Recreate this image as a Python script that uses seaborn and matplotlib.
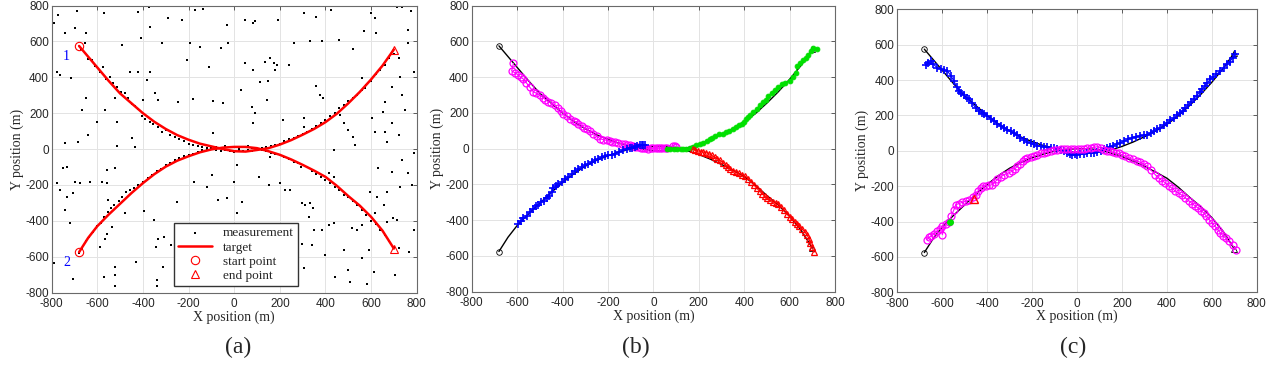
import matplotlib
matplotlib.use("Agg")
import matplotlib.pyplot as plt
import seaborn as sns

# true target tracks (knots)
t1_x = [-680, -640, -600, -550, -500, -450, -400, -350, -300, -250, -200, -150, -100, -50, 0, 50, 100, 150,
        200, 250, 300, 350, 400, 450, 500, 550, 600, 650, 700]
t1_y = [575, 515, 455, 380, 310, 255, 200, 152, 112, 78, 52, 30, 15, 0, -12, -14, -5, 5,
        25, 50, 80, 112, 150, 197, 255, 318, 388, 465, 555]
t2_x = t1_x
t2_y = [-575, -495, -430, -365, -305, -245, -190, -140, -98, -65, -40, -18, -2, 8, 12, 12, 5, -12,
        -32, -58, -88, -120, -155, -205, -262, -315, -378, -455, -555]

# clutter measurements, panel (a)
clut_x = [-788, -771, -688, -571, -420, -373, -289, -135, -33, 48, 84, 92, 194, 306, 359, 425, 600, 618,
          713, 735, 776, 760, 571, 622, -742, -698, -649, -410, -369, -318, -194, -28, -60, -152, 260, 333,
          384, 760, -171, -775, -763, -715, -668, -649, -602, -643, -683, -741, -512, -450, -435, -493,
          -457, -420, -383, -369, -347, -333, -398, -522, -515, -566, -245, -180, -92, -51, -208, -92, 48,
          77, 84, 84, 92, 114, 143, 157, 136, 173, 180, 187, 216, 304, 304, 359, 377, 390, 436, 463, 480,
          501, 523, 530, 559, 573, 603, 618, 651, 660, 668, 660, 692, 721, 728, 735, 750, 787, 787, 721,
          692, -778, -763, -751, -734, -734, -741, -705, -698, -676, -719, -705, -792, -632, -581, -559,
          -556, -551, -522, -478, -537, -588, -571, -522, -522, -522, -430, -394, -351, -336, -344, -339,
          -339, -307, -310, -251, -278, -237, -120, -98, -69, -33, -3, 11, 33, 11, 107, 202, 246, 297, 311,
          333, 347, 326, 297, 341, 304, 348, 384, 399, 415, 436, 440, 480, 501, 509, 516, 538, 560, 560,
          581, 589, 611, 655, 670, 670, 692, 697, 713, 706, 728, 735, 760, 779, 787, 765, 721, 625, 618,
          596, 632, 436, 415, 292, 224, 157, 151, -178, -559, -566, -230, -110, 30, 150, 240, 460, 520]
clut_y = [705, 748, 770, 761, 766, 795, 729, 780, 692, 720, 701, 716, 720, 761, 735, 776, 761, 729,
          794, 790, 770, 664, 660, 646, 649, 673, 649, 618, 683, 590, 593, 593, 562, 571, 593, 605,
          603, 590, 776, 432, 413, 394, 218, 283, 153, 78, 41, 32, 17, 60, 13, 580,
          432, 432, 385, 432, 311, 273, 273, 283, 153, 218, 264, 279, 270, 259, 497, 87, 478,
          236, 441, 143, 199, 376, 273, 506, 488, 478, 441, 469, 162, 125, 171, 352, 301, 283, -6, 190, 143,
          106, 69, 22, 394, 339, 171, 97, 208, 97, 41, 264, 143, 78, 404, 301, 218, 432, -24, 506,
          348, -192, -229, -108, -99, -266, -340, -247, -182, -192, -415, -722, -638, -182, -182, -117,
          -188, -285, -108, -359, -433, -545, -713, -657, -703, -765, -629, -344, -396, -502, -545, -731,
          -765, -493, -657, -294, -536, -582, -210, -145, -285, -275, -182, -359, -294, -89, -154, -192, -229, -303, -313,
          -303, -331, -378, -527, -536, -666, -452, -452, -592, -424, -415, -713, -564, -675, -740, -443, -452, -424, -610,
          -750, -564, -685, -313, -238, -406, -126, -387, -396, -703, -210, -61, -136, -201, -452, -573, -554, -266, -359,
          -238, -108, -154, -136, -99, -229, -43, -201, -182, -471, -501, 720, 460, 330, 380, 470, 610, 560]

# measurements near the two tracks, panel (a)
m1_x = [-670, -655, -640, -625, -610, -590, -575, -560, -545, -530, -515, -495, -480, -465, -450, -435, -420,
        -405, -390, -370, -355, -335, -318, -300, -280, -260, -240, -220, -200, -180, -160, -140, -120, -100,
        -80, -60, -40, -20, 0, 20, 40, 60, 80, 100, 120, 140, 160, 180, 200, 220, 240, 260, 280, 300, 320,
        340, 360, 380, 400, 420, 440, 460, 480, 500, 520, 540, 560, 580, 600, 620, 640, 660, 680, 700]
m1_y = [560, 590, 500, 495, 465, 430, 455, 390, 400, 370, 345, 320, 310, 285, 250, 240, 225,
        185, 170, 150, 140, 125, 95, 105, 80, 70, 55, 45, 30, 20, 15, 10, 5, 0,
        -5, -10, -5, -10, -15, -5, -10, -5, -10, 0, 5, 10, 15, 20, 30, 45, 55, 60, 75, 85, 95,
        110, 130, 145, 160, 185, 200, 230, 245, 270, 285, 300, 330, 360, 380, 420, 440, 470, 510, 530]
m2_x = [-680, -665, -650, -635, -620, -600, -585, -570, -555, -540, -525, -505, -490, -475, -455, -440, -420,
        -400, -380, -360, -340, -320, -300, -280, -260, -240, -220, -200, -180, -160, -140, -120, -100, -80,
        -60, -40, -20, 0, 20, 40, 60, 80, 100, 120, 140, 160, 180, 200, 220, 240, 260, 280, 300, 320, 340,
        360, 380, 400, 420, 440, 460, 480, 500, 520, 540, 560, 580, 600, 620, 640, 660, 680, 700]
m2_y = [-580, -560, -510, -490, -460, -430, -410, -380, -350, -330, -310, -290, -265, -240, -230, -215, -200,
        -185, -160, -145, -120, -110, -90, -75, -60, -50, -40, -35, -25, -15, -5, 0, 5, 10,
        5, 15, 10, 12, 5, 10, 15, 5, 0, -5, -10, -20, -25, -35, -45, -55, -70, -80, -90, -100, -120,
        -140, -155, -170, -190, -210, -230, -255, -270, -290, -310, -340, -370, -400, -420, -450, -480, -510, -545]

# estimated tracks, panel (b)
mag_b_x = [-616, -624, -610, -594, -585, -572, -560, -545, -528, -515, -499, -485, -475, -462, -450, -433,
           -420, -408, -396, -380, -367, -350, -340, -330, -315, -305, -293, -280, -264, -250, -235, -220,
           -206, -190, -180, -169, -155, -140, -125, -115, -103, -90, -80, -66, -55, -45, -35, -22, -10, 0,
           10, 20, 30, 40, 50, 60, 85, 95, 100]
mag_b_y = [477, 435, 425, 411, 400, 389, 370, 345, 318, 310, 299, 285, 275, 262, 255, 243,
           225, 210, 196, 180, 168, 155, 150, 140, 128, 118, 108, 98, 84, 70, 56, 50,
           47, 42, 40, 37, 32, 28, 25, 20, 19, 15, 12, 9, 6, 5, 3, 0, 2, 3,
           2, 3, 2, 3, 2, 3, 15, 15, 12]
grn_b_x = [59, 75, 90, 105, 120, 132, 145, 160, 176, 190, 205, 220, 235, 250, 260, 272, 290, 308, 320, 335,
           352, 365, 378, 389, 400, 410, 418, 426, 440, 455, 470, 485, 495, 505, 521, 535, 551, 565, 580,
           600, 615, 628, 634, 645, 661, 670, 683, 695, 705, 722]
grn_b_y = [0, -2, -2, -3, -4, -4, -2, 3, 9, 18, 25, 34, 45, 55, 62, 71, 80, 84, 92, 100,
           112, 122, 132, 140, 150, 165, 175, 187, 205, 224, 245, 262, 275, 292, 314, 330, 346, 360, 370,
           380, 400, 421, 464, 480, 495, 505, 523, 545, 561, 555]
blu_b_x = [-597, -585, -572, -558, -545, -530, -518, -506, -495, -482, -470, -458, -448, -440, -430, -418,
           -404, -390, -375, -360, -345, -330, -315, -301, -288, -272, -256, -242, -228, -212, -198, -183,
           -168, -150, -132, -118, -105, -92, -81, -70, -60, -50, -44, -38]
blu_b_y = [-421, -405, -390, -374, -355, -335, -322, -314, -300, -290, -277, -262, -240, -221, -210, -200,
           -187, -172, -158, -140, -125, -115, -103, -93, -85, -75, -65, -56, -48, -42, -38, -34,
           -28, -18, -9, -2, 3, 6, 9, 14, 18, 22, 22, 18]
red_b_x = [176, 185, 195, 210, 220, 232, 245, 258, 270, 282, 294, 305, 318, 328, 338, 350, 362, 375, 390,
           404, 418, 430, 442, 455, 468, 480, 490, 499, 512, 525, 540, 551, 562, 575, 587, 600, 612, 622,
           631, 642, 655, 668, 678, 686, 690, 698, 708]
red_b_y = [-4, -6, -12, -16, -19, -22, -28, -38, -48, -55, -65, -78, -92, -102, -112, -122, -128, -138, -145,
           -153, -170, -185, -202, -220, -238, -252, -265, -277, -288, -296, -302, -308, -325, -345, -364, -380, -395, -408,
           -420, -435, -450, -467, -485, -505, -527, -550, -579]

# estimated tracks, panel (c)
blu_c_x = [-674, -662, -652, -640, -622, -608, -592, -577, -562, -548, -535, -525, -518, -505, -492, -481,
           -468, -451, -438, -425, -414, -400, -385, -370, -355, -340, -325, -310, -295, -281, -268, -252,
           -236, -222, -207, -192, -178, -162, -147, -132, -118, -103, -88, -72, -58, -45, -32, -21, -10, 1,
           15, 30, 45, 60, 75, 89, 105, 120, 135, 148, 162, 178, 193, 210, 228, 245, 262, 280, 296, 312,
           328, 342, 356, 370, 385, 400, 415, 430, 445, 458, 470, 482, 495, 507, 519, 532, 545, 556, 568,
           580, 593, 605, 620, 638, 652, 668, 680, 692, 705]
blu_c_y = [483, 495, 508, 490, 470, 462, 455, 451, 425, 394, 360, 340, 325, 315, 300, 291,
           270, 243, 228, 215, 206, 195, 182, 168, 152, 140, 130, 120, 110, 102, 88, 75,
           64, 50, 42, 36, 30, 26, 23, 20, 18, 17, 10, 5, -2, -10, -18, -21, -20, -21,
           -18, -16, -15, -12, -10, -8, 0, 10, 18, 23, 30, 38, 45, 55, 65, 74, 80, 84, 88, 92,
           102, 112, 121, 132, 145, 158, 172, 185, 200, 215, 228, 243, 260, 277, 294, 312, 330, 347, 365,
           385, 404, 418, 432, 451, 470, 489, 505, 525, 545]
mag_c_x = [-669, -660, -652, -638, -622, -610, -600, -600, -585, -570, -560, -548, -540, -525, -511, -495,
           -481, -465, -451, -440, -429, -418, -407, -392, -377, -366, -355, -340, -325, -305, -288, -276,
           -266, -255, -243, -232, -221, -207, -192, -177, -162, -148, -132, -117, -102, -88, -73, -58, -43,
           -28, -12, 3, 18, 30, 45, 60, 75, 89, 105, 120, 135, 148, 160, 172, 185, 200, 215, 230, 248, 267,
           282, 297, 312, 330, 348, 363, 378, 393, 408, 423, 438, 453, 468, 482, 497, 512, 527, 540, 552,
           564, 576, 589, 601, 613, 626, 638, 650, 663, 675, 692, 709]
mag_c_y = [-502, -490, -483, -470, -455, -440, -426, -474, -415, -402, -370, -332, -304, -298, -291, -285,
           -279, -262, -247, -225, -209, -200, -196, -195, -191, -176, -162, -148, -134, -125, -115, -100,
           -87, -72, -58, -48, -40, -35, -30, -22, -15, -10, -5, -2, 2, 5, 8, 10, 10,
           11, 12, 12, 10, 11, 14, 18, 20, 23, 15, 5, 0, -2, -8, -12, -15, -22, -30, -40, -48, -58,
           -65, -75, -87, -110, -135, -153, -168, -181, -198, -212, -228, -240, -252, -266, -282, -298, -313, -325, -338,
           -351, -370, -390, -408, -425, -445, -464, -480, -495, -511, -535, -558]
grn_c_x = [-565]
grn_c_y = [-400]
red_c_x = [-460]
red_c_y = [-275]

start_x = [t1_x[0], t2_x[0]]
start_y = [t1_y[0], t2_y[0]]
end_x = [t1_x[-1], t2_x[-1]]
end_y = [t1_y[-1], t2_y[-1]]

sns.set_style("whitegrid")
plt.rcParams["axes.unicode_minus"] = False
plt.rcParams["font.family"] = ["Liberation Serif", "DejaVu Serif"]
TICKFONT = "Liberation Sans"


def style_axis(ax):
    ax.set_xlim(-800, 800)
    ax.set_ylim(-800, 800)
    ticks = list(range(-800, 801, 200))
    ax.set_xticks(ticks)
    ax.set_yticks(ticks)
    ax.set_xticklabels([str(t) for t in ticks], fontsize=8.5, family=TICKFONT)
    ax.set_yticklabels([str(t) for t in ticks], fontsize=8.5, family=TICKFONT)
    ax.grid(True, color="#e3e3e3", linewidth=0.7)
    ax.tick_params(direction="in", length=3, width=0.6, color="#444444", top=True, right=True, pad=2)
    ax.tick_params(axis="x", pad=4)
    for s in ax.spines.values():
        s.set_visible(True)
        s.set_color("#6a6a6a")
        s.set_linewidth(0.8)
    ax.set_xlabel("X position (m)", fontsize=10, labelpad=0)
    ax.set_ylabel("Y position (m)", fontsize=10, labelpad=1)


fig = plt.figure(figsize=(12.7, 3.75), dpi=100)
ax_a = fig.add_axes([0.0407, 0.220, 0.2874, 0.765])
ax_b = fig.add_axes([0.3714, 0.222, 0.2861, 0.763])
ax_c = fig.add_axes([0.7066, 0.2205, 0.2830, 0.7545])

# (a) measurements and true targets
sns.scatterplot(x=clut_x + m1_x + m2_x, y=clut_y + m1_y + m2_y, ax=ax_a, color="black", marker="s",
                s=4, linewidth=0, label="measurement", zorder=2)
ax_a.plot(t1_x, t1_y, color="red", lw=1.8, label="target", zorder=3)
ax_a.plot(t2_x, t2_y, color="red", lw=1.8, zorder=3)
ax_a.plot(start_x, start_y, "o", mfc="none", mec="red", ms=6, mew=0.8, label="start point", zorder=4)
ax_a.plot(end_x, end_y, "^", mfc="none", mec="red", ms=6, mew=0.8, label="end point", zorder=4)
ax_a.text(-735, 515, "1", color="blue", fontsize=10, ha="center", va="center")
ax_a.text(-735, -630, "2", color="blue", fontsize=10, ha="center", va="center")
style_axis(ax_a)
leg = ax_a.legend(loc="lower center", bbox_to_anchor=(0.505, 0.0), fontsize=9.5, frameon=True,
                  fancybox=False, edgecolor="#333333", framealpha=1, handlelength=2.6,
                  borderpad=0.3, labelspacing=0.15)
leg.legend_handles[0].set_sizes([3])


def draw_truth(ax):
    ax.plot(t1_x, t1_y, color="black", lw=1.0, zorder=2)
    ax.plot(t2_x, t2_y, color="black", lw=1.0, zorder=2)
    ax.plot(start_x, start_y, "o", mfc="none", mec="black", ms=4, mew=0.6, zorder=2)
    ax.plot(end_x, end_y, "^", mfc="none", mec="black", ms=4, mew=0.6, zorder=2)


# (b) estimated tracks
draw_truth(ax_b)
ax_b.plot(mag_b_x, mag_b_y, color="magenta", lw=0.8, marker="o", mfc="none", ms=5, mew=0.9, zorder=3)
ax_b.plot(grn_b_x, grn_b_y, color="#00e000", lw=0.8, marker="o", mfc="#00e000", ms=3.5, mew=0.6, zorder=3)
ax_b.plot(blu_b_x, blu_b_y, color="blue", lw=0.8, marker="+", ms=6, mew=1.2, zorder=3)
ax_b.plot(red_b_x, red_b_y, color="red", lw=0.8, marker="^", mfc="none", ms=5, mew=0.9, zorder=3)
style_axis(ax_b)

# (c) estimated tracks
draw_truth(ax_c)
ax_c.plot(blu_c_x, blu_c_y, color="blue", lw=0.8, marker="+", ms=6, mew=1.2, zorder=3)
ax_c.plot(mag_c_x, mag_c_y, color="magenta", lw=0.8, marker="o", mfc="none", ms=5, mew=0.9, zorder=3)
ax_c.plot(grn_c_x, grn_c_y, "o", color="#00e000", ms=4, zorder=4)
ax_c.plot(red_c_x, red_c_y, "^", mfc="none", mec="red", ms=6, mew=1.0, zorder=4)
style_axis(ax_c)

for label, xc in [("(a)", 238), ("(b)", 636), ("(c)", 1073)]:
    fig.text(xc / 1270, 1 - 347 / 375, label, fontsize=17, ha="center", va="center")

fig.savefig("out.png", dpi=100)
